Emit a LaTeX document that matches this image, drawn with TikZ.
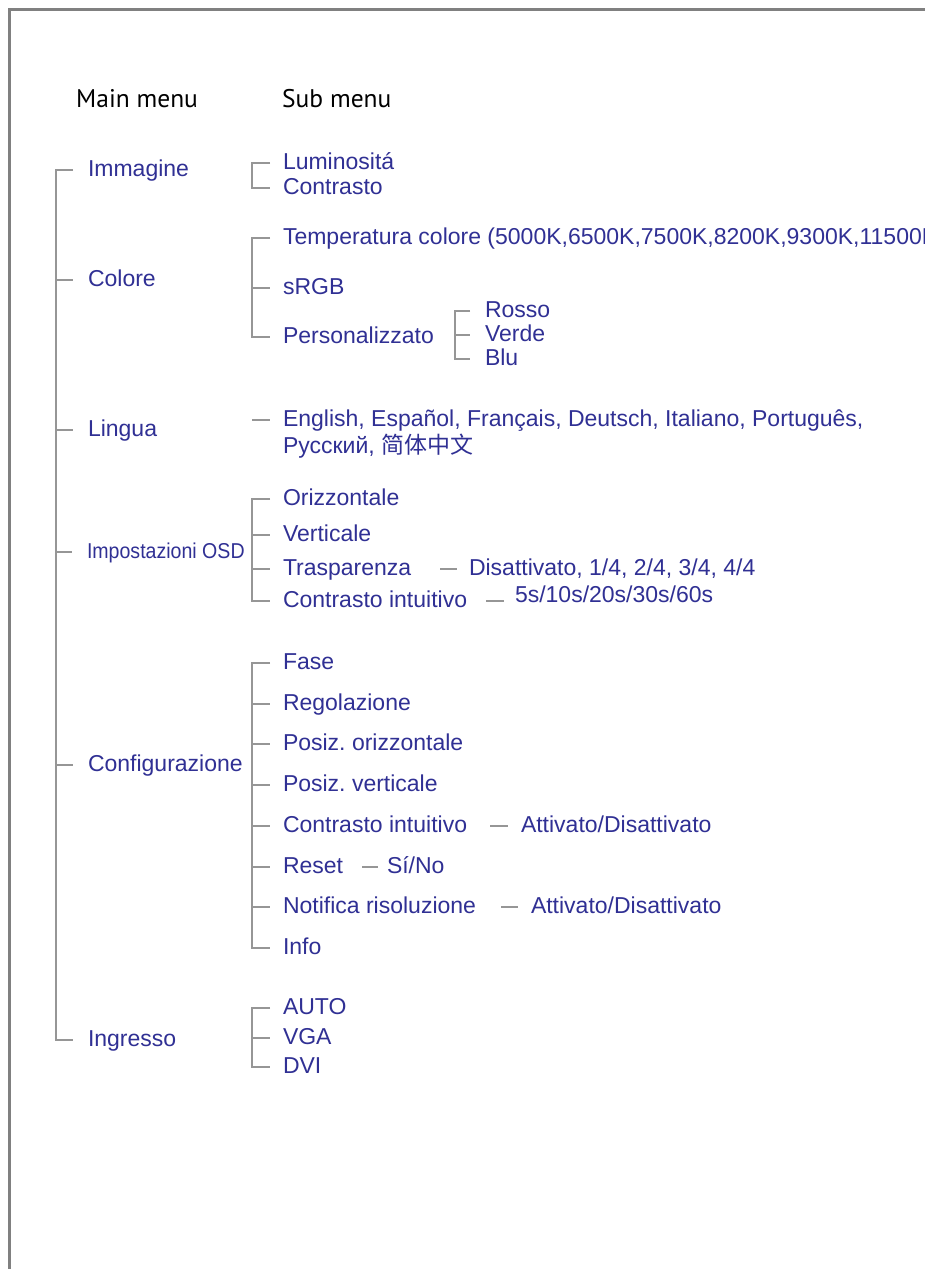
\documentclass[tikz,border=0pt]{standalone}
\usepackage{fontspec}
\setmainfont{Liberation Sans}
\newfontfamily\headfont{PT Sans}
\newfontfamily\cjk{Noto Sans CJK SC}
\definecolor{txtblue}{RGB}{48,48,148}
\definecolor{linegray}{RGB}{150,150,150}
\definecolor{framegray}{RGB}{128,128,128}
\tikzset{
  lbl/.style={text=txtblue, anchor=mid west, inner sep=0pt, outer sep=0pt, font=\fontsize{23}{27}\selectfont},
  head/.style={text=black, anchor=base west, inner sep=0pt, font=\headfont\fontsize{25.5}{30}\selectfont},
  tree/.style={draw=linegray, line width=2pt},
  frame/.style={draw=framegray, line width=3pt},
}
\begin{document}
\frenchspacing
\fontsize{23}{27}\selectfont
\begin{tikzpicture}[x=1pt,y=-1pt]
\useasboundingbox (0,0) rectangle (925,1269);
\clip (0,0) rectangle (925,1269);
\fill[white] (0,0) rectangle (925,1269);
% frame
\coordinate (fbl) at (9.5,1275);
\coordinate (ftl) at (9.5,9.5);
\coordinate (ftr) at (930,9.5);
\draw[frame] (fbl) -- (ftl) -- (ftr);

% headers
\node[head] (hmain) at (76,107) {Main menu};
\node[head] (hsub) at (282,107) {Sub menu};

% main menu
\node[lbl] (m1) at (88,170) {Immagine};
\node[lbl] (m2) at (88,280) {Colore};
\node[lbl] (m3) at (88,430) {Lingua};
\node[lbl] (m4) at (87,552) {\fontsize{21.5}{25}\selectfont\scalebox{0.91}[1]{Impostazioni OSD}};
\node[lbl] (m5) at (88,765) {Configurazione};
\node[lbl] (m6) at (88,1040) {Ingresso};
\coordinate (mspine) at (56,0);
\draw[tree] ([xshift=-15pt]m1.mid west) -- (mspine |- m1.mid west) -- (mspine |- m6.mid west) -- ([xshift=-15pt]m6.mid west);
\foreach \n in {m2,m3,m4,m5}
  \draw[tree] (mspine |- \n.mid west) -- ([xshift=-15pt]\n.mid west);

% sub spine x
\coordinate (sspine) at (252,0);

% Immagine
\node[lbl] (s11) at (283,163) {Luminosit\'a};
\node[lbl] (s12) at (283,188) {Contrasto};
\draw[tree] ([xshift=-13pt]s11.mid west) -- (sspine |- s11.mid west) -- (sspine |- s12.mid west) -- ([xshift=-13pt]s12.mid west);

% Colore
\node[lbl] (s21) at (283,238) {Temperatura colore (5000K,6500K,7500K,8200K,9300K,11500K)};
\node[lbl] (s22) at (283,288) {sRGB};
\node[lbl] (s23) at (283,337) {Personalizzato};
\draw[tree] ([xshift=-13pt]s21.mid west) -- (sspine |- s21.mid west) -- (sspine |- s23.mid west) -- ([xshift=-13pt]s23.mid west);
\draw[tree] (sspine |- s22.mid west) -- ([xshift=-13pt]s22.mid west);
\node[lbl] (p1) at (485,311) {Rosso};
\node[lbl] (p2) at (485,335) {Verde};
\node[lbl] (p3) at (485,359) {Blu};
\coordinate (pspine) at (455,0);
\draw[tree] ([xshift=-15pt]p1.mid west) -- (pspine |- p1.mid west) -- (pspine |- p3.mid west) -- ([xshift=-15pt]p3.mid west);
\draw[tree] (pspine |- p2.mid west) -- ([xshift=-15pt]p2.mid west);

% Lingua
\node[lbl] (s31) at (283,420) {English, Espa\~nol, Fran\c{c}ais, Deutsch, Italiano, Portugu\^es,};
\node[lbl] (s32) at (283,447) {Русский, {\cjk 简体中文}};
\draw[tree] (sspine |- s31.mid west) -- ([xshift=-13pt]s31.mid west);

% Impostazioni OSD
\node[lbl] (s41) at (283,499) {Orizzontale};
\node[lbl] (s42) at (283,535) {Verticale};
\node[lbl] (s43) at (283,569) {Trasparenza};
\node[lbl] (s44) at (283,601) {Contrasto intuitivo};
\draw[tree] ([xshift=-13pt]s41.mid west) -- (sspine |- s41.mid west) -- (sspine |- s44.mid west) -- ([xshift=-13pt]s44.mid west);
\foreach \n in {s42,s43}
  \draw[tree] (sspine |- \n.mid west) -- ([xshift=-13pt]\n.mid west);
\node[lbl] (t43) at (469,569) {Disattivato, 1/4, 2/4, 3/4, 4/4};
\draw[tree] ([xshift=-29pt]t43.mid west) -- ([xshift=-12pt]t43.mid west);
\node[lbl] (t44) at (515,596) {5s/10s/20s/30s/60s};
\draw[tree] ([xshift=-29pt,yshift=-5pt]t44.mid west) -- ([xshift=-11pt,yshift=-5pt]t44.mid west);

% Configurazione
\node[lbl] (s51) at (283,663) {Fase};
\node[lbl] (s52) at (283,704) {Regolazione};
\node[lbl] (s53) at (283,744) {Posiz. orizzontale};
\node[lbl] (s54) at (283,785) {Posiz. verticale};
\node[lbl] (s55) at (283,826) {Contrasto intuitivo};
\node[lbl] (s56) at (283,867) {Reset};
\node[lbl] (s57) at (283,907) {Notifica risoluzione};
\node[lbl] (s58) at (283,948) {Info};
\draw[tree] ([xshift=-13pt]s51.mid west) -- (sspine |- s51.mid west) -- (sspine |- s58.mid west) -- ([xshift=-13pt]s58.mid west);
\foreach \n in {s52,s53,s54,s55,s56,s57}
  \draw[tree] (sspine |- \n.mid west) -- ([xshift=-13pt]\n.mid west);
\node[lbl] (t55) at (521,826) {Attivato/Disattivato};
\draw[tree] ([xshift=-31pt]t55.mid west) -- ([xshift=-13pt]t55.mid west);
\node[lbl] (t56) at (387,867) {S\'i/No};
\draw[tree] ([xshift=-25pt]t56.mid west) -- ([xshift=-9pt]t56.mid west);
\node[lbl] (t57) at (531,907) {Attivato/Disattivato};
\draw[tree] ([xshift=-30pt]t57.mid west) -- ([xshift=-13pt]t57.mid west);

% Ingresso
\node[lbl] (s61) at (283,1008) {AUTO};
\node[lbl] (s62) at (283,1038) {VGA};
\node[lbl] (s63) at (283,1067) {DVI};
\draw[tree] ([xshift=-13pt]s61.mid west) -- (sspine |- s61.mid west) -- (sspine |- s63.mid west) -- ([xshift=-13pt]s63.mid west);
\draw[tree] (sspine |- s62.mid west) -- ([xshift=-13pt]s62.mid west);
\end{tikzpicture}
\end{document}
